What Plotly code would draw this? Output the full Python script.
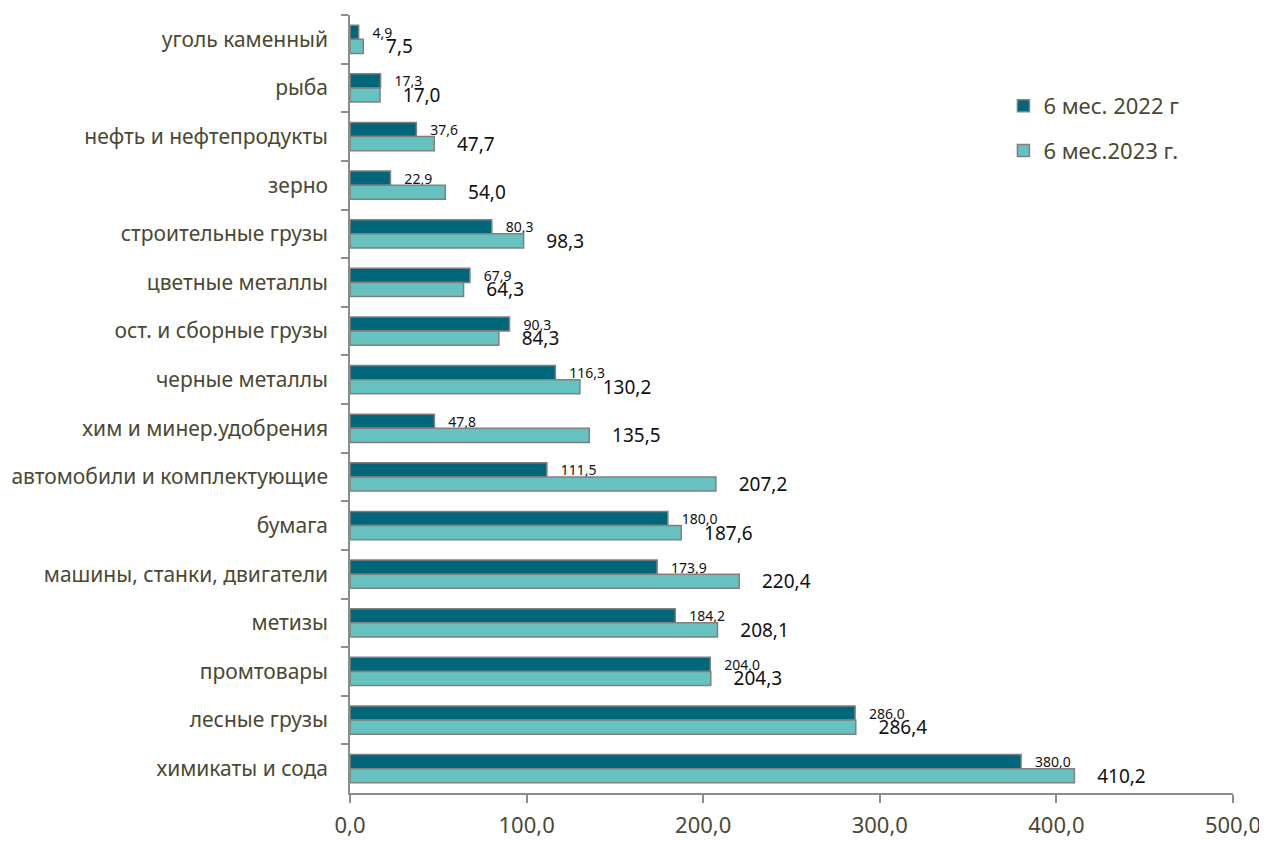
import plotly.graph_objects as go

categories = [
    "уголь каменный",
    "рыба",
    "нефть и нефтепродукты",
    "зерно",
    "строительные грузы",
    "цветные металлы",
    "ост. и сборные грузы",
    "черные металлы",
    "хим и минер.удобрения",
    "автомобили и комплектующие",
    "бумага",
    "машины, станки, двигатели",
    "метизы",
    "промтовары",
    "лесные грузы",
    "химикаты и сода",
]
values_2022 = [4.9, 17.3, 37.6, 22.9, 80.3, 67.9, 90.3, 116.3, 47.8, 111.5,
               180.0, 173.9, 184.2, 204.0, 286.0, 380.0]
values_2023 = [7.5, 17.0, 47.7, 54.0, 98.3, 64.3, 84.3, 130.2, 135.5, 207.2,
               187.6, 220.4, 208.1, 204.3, 286.4, 410.2]
x_ticks = [0, 100, 200, 300, 400, 500]

FONT = "Noto Sans"
TEXT_COLOR = "#4a4832"
AXIS_COLOR = "#8c8c8c"


def fmt(v):
    return f"{v:.1f}".replace(".", ",")


fig = go.Figure()
fig.add_trace(go.Bar(
    y=categories, x=values_2022, orientation="h", name="6 мес. 2022 г",
    marker=dict(color="#00667a", line=dict(color="#808080", width=1.5)),
    text=["\u00a0\u00a0\u00a0" + fmt(v) for v in values_2022],
    textposition="outside", cliponaxis=False, constraintext="none",
    textfont=dict(family=FONT, size=14, color="#111111"),
    legendgroup="a",
))
fig.add_trace(go.Bar(
    y=categories, x=values_2023, orientation="h", name="6 мес.2023 г.",
    marker=dict(color="#66c2c0", line=dict(color="#808080", width=1.5)),
    text=["\u00a0\u00a0\u00a0\u00a0" + fmt(v) for v in values_2023],
    textposition="outside", cliponaxis=False, constraintext="none",
    textfont=dict(family=FONT, size=19, color="#111111"),
    legendgroup="b",
))

fig.update_layout(
    width=1259, height=833,
    barmode="group", bargap=0.42, bargroupgap=0,
    plot_bgcolor="white", paper_bgcolor="white",
    separators=", ",
    font=dict(family=FONT, color=TEXT_COLOR),
    margin=dict(l=342, r=34, t=7, b=48),
    legend=dict(x=0.74, y=0.91, xanchor="left", yanchor="top",
                font=dict(family=FONT, size=22, color=TEXT_COLOR),
                traceorder="grouped", tracegroupgap=13, itemwidth=30),
)
fig.update_xaxes(
    range=[0, 500], tickvals=x_ticks, tickformat=".1f",
    showgrid=False, zeroline=False, automargin=False,
    showline=True, linecolor=AXIS_COLOR, linewidth=1.5,
    ticks="outside", ticklen=8, tickcolor=AXIS_COLOR, tickwidth=1.5,
    ticklabelstandoff=4,
    tickfont=dict(family=FONT, size=22, color=TEXT_COLOR),
)
fig.update_yaxes(
    autorange="reversed", showgrid=False, automargin=False,
    showline=True, linecolor=AXIS_COLOR, linewidth=1.5,
    ticks="outside", ticklen=7, tickcolor=AXIS_COLOR, tickwidth=1.5,
    tickson="boundaries", ticklabelstandoff=16,
    tickfont=dict(family=FONT, size=21, color=TEXT_COLOR),
)

fig.write_html("out.html")
